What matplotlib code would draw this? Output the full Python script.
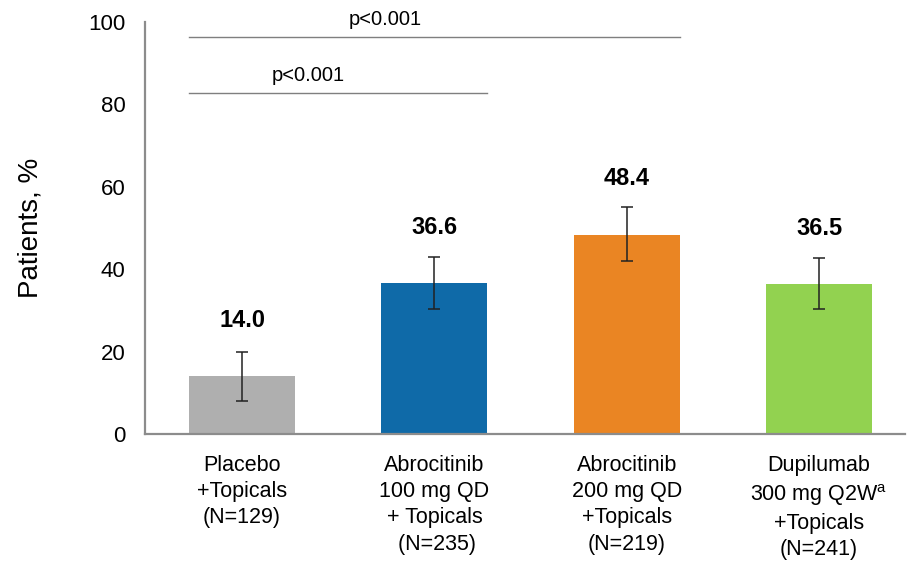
import matplotlib

matplotlib.use("Agg")
import matplotlib.pyplot as plt

plt.rcParams["font.family"] = ["Liberation Sans", "DejaVu Sans"]
plt.rcParams["mathtext.fontset"] = "custom"
plt.rcParams["mathtext.rm"] = "Liberation Sans"

# response rates with 95% CI bounds
groups = [
    "Placebo\n+Topicals\n(N=129)",
    "Abrocitinib\n100 mg QD\n+ Topicals\n (N=235)",
    "Abrocitinib\n200 mg QD\n+Topicals\n(N=219)",
    "Dupilumab\n300 mg Q2W$^{\\mathrm{a}}$\n+Topicals\n(N=241)",
]
values = [14.0, 36.6, 48.4, 36.5]
ci_low = [8.1, 30.3, 41.9, 30.3]
ci_high = [20.0, 43.0, 55.1, 42.7]
colors = ["#afafaf", "#0f6aa8", "#ea8523", "#92d250"]

# pairwise comparisons vs placebo: (from, to, line height, label)
comparisons = [(0, 2, 96.4, "p<0.001"), (0, 1, 82.7, "p<0.001")]

fig = plt.figure(figsize=(9.07, 5.63), dpi=100)
ax = fig.add_axes([0.160, 0.229, 0.838, 0.732])

x = list(range(len(values)))
width = 0.55
yerr = [[v - lo for v, lo in zip(values, ci_low)], [hi - v for v, hi in zip(values, ci_high)]]
ax.bar(x, values, width=width, color=colors, zorder=2)
ax.errorbar(x, values, yerr=yerr, fmt="none", ecolor="#222222", elinewidth=1.1,
            capsize=4, capthick=1.1, zorder=3)

for xi, v in zip(x, values):
    ax.text(xi, v + 13.5, f"{v:.1f}", ha="center", va="center",
            fontsize=17, fontweight="bold")

# bracket lines run from the left edge of the first bar to the right edge of the second
for a, b, h, label in comparisons:
    x0, x1 = a - width / 2, b + width / 2
    ax.plot([x0, x1], [h, h], color="#7f7f7f", lw=1.0, clip_on=False, zorder=2)
    ax.text(x0 + 0.4 * (x1 - x0), h + 4.3, label,
            ha="center", va="center", fontsize=14.5, clip_on=False)

ax.set_xlim(-0.504, 3.448)
ax.set_ylim(0, 100)
ax.set_yticks([0, 20, 40, 60, 80, 100])
ax.set_xticks(x)
ax.set_xticklabels(groups, fontsize=15.5, linespacing=1.33)
ax.tick_params(axis="both", length=0)
ax.tick_params(axis="y", pad=14, labelsize=16)
ax.tick_params(axis="x", pad=15)
ax.set_ylabel("Patients, %", fontsize=20, labelpad=32)

for side in ("top", "right"):
    ax.spines[side].set_visible(False)
for side in ("left", "bottom"):
    ax.spines[side].set_color("#8c8c8c")
    ax.spines[side].set_linewidth(1.6)

fig.savefig("out.png", dpi=100)
